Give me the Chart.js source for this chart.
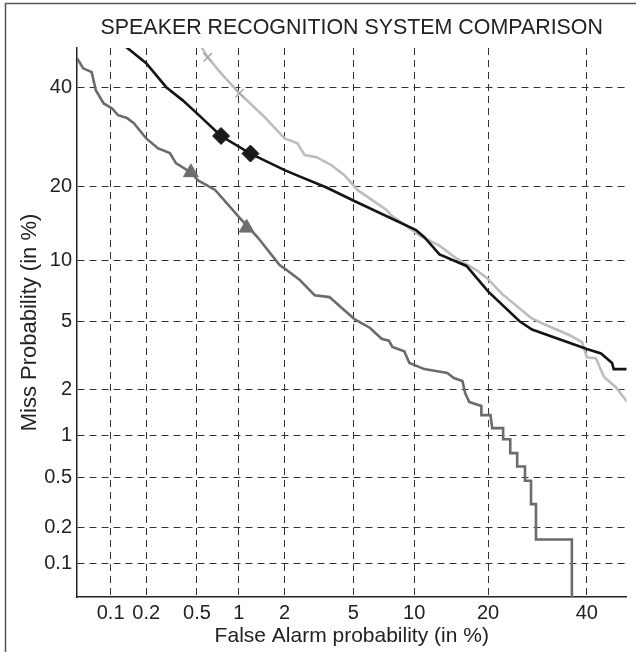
<!DOCTYPE html>
<html>
<head>
<meta charset="utf-8">
<script src="https://cdn.jsdelivr.net/npm/chart.js@4.4.1/dist/chart.umd.min.js"></script>
<style>
  html, body { margin: 0; padding: 0; background: #fff; }
  #wrap { width: 636px; height: 652px; }
</style>
</head>
<body>
<div id="wrap"><canvas id="detChart" width="636" height="652"></canvas></div>
<script>
// tick values (in %), same on both axes
var xTicks = [0.1, 0.2, 0.5, 1, 2, 5, 10, 20, 40];
var yTicks = [0.1, 0.2, 0.5, 1, 2, 5, 10, 20, 40];

// system A (black, diamonds)
var faA   = [0.13, 0.20, 0.29, 0.39, 0.50, 0.75, 1.2, 2.0, 2.47, 3.56, 5.1, 10.2, 11.1, 12.9, 16.6, 20.0, 25.6, 28.1, 40.0, 43.3, 45.9, 46.3, 49.5];
var missA = [50, 45.7, 40.1, 37.1, 34.2, 29.4, 25.9, 22.8, 21.7, 19.8, 17.6, 13.5, 12.6, 10.6, 9.4, 7.1, 5.0, 4.5, 3.5, 3.3, 2.9, 2.67, 2.67];

// system B (light grey, crosses)
var faB   = [0.53, 0.60, 0.75, 1.01, 1.49, 2.0, 2.40, 2.65, 3.12, 3.80, 4.48, 5.26, 7.4, 7.8, 10.9, 12.9, 15.1, 18.1, 19.9, 22.4, 27.9, 30.6, 36.0, 38.9, 40.0, 42.1, 44.0, 46.8, 49.5];
var missB = [50, 47.1, 43.3, 38.7, 33.4, 28.9, 27.9, 25.6, 25.2, 23.7, 21.9, 19.4, 16.3, 15.5, 12.6, 11.6, 10.2, 9.0, 8.2, 6.9, 5.2, 4.8, 4.2, 3.83, 3.14, 3.10, 2.39, 2.07, 1.67];

// system C (dark grey, triangles)
var faC   = [0.05, 0.057, 0.068, 0.074, 0.087, 0.103, 0.116, 0.138, 0.158, 0.20, 0.25, 0.31, 0.345, 0.45, 0.51, 0.68, 1.01, 1.34, 1.86, 2.06,
             2.47, 3.04, 3.70, 4.48, 5.1, 6.1, 7.0, 7.6, 7.9, 9.0, 9.5, 11.1, 13.9, 14.8, 16.0, 16.4, 17.0, 18.9, 18.9, 20.4,
             20.7, 22.6, 22.6, 23.9, 23.9, 25.2, 25.2, 26.7, 26.7, 27.9, 27.9, 28.9, 28.9, 36.6, 36.6];
var missC = [46.9, 44.5, 43.6, 39.4, 36.4, 35.3, 33.8, 33.2, 32.1, 28.9, 26.9, 26.0, 24.1, 22.4, 21.0, 19.4, 15.2, 12.6, 9.5, 9.0,
             8.1, 6.8, 6.65, 5.7, 5.1, 4.6, 4.0, 3.9, 3.6, 3.4, 2.9, 2.67, 2.53, 2.36, 2.26, 1.90, 1.67, 1.57, 1.37, 1.37,
             1.12, 1.12, 0.94, 0.94, 0.75, 0.75, 0.60, 0.60, 0.47, 0.47, 0.31, 0.31, 0.16, 0.16, 0.04];

// operating point markers
var markFaA = [0.75, 1.2],  markMissA = [29.4, 25.9];
var markFaB = [0.60, 1.01], markMissB = [47.1, 38.7];
var markFaC = [0.45, 1.13], markMissC = [22.4, 13.8];

// inverse normal cdf (Acklam) -> DET axes are normal deviate scaled
function probit(p) {
  var a = [-39.69683028665376, 220.9460984245205, -275.9285104469687, 138.3577518672690, -30.66479806614716, 2.506628277459239];
  var b = [-54.47609879822406, 161.5858368580409, -155.6989798598866, 66.80131188771972, -13.28068155288572];
  var c = [-0.007784894002430293, -0.3223964580411365, -2.400758277161838, -2.549732539343734, 4.374664141464968, 2.938163982698783];
  var d = [0.007784695709041462, 0.3224671290700398, 2.445134137142996, 3.754408661907416];
  var q, r;
  if (p < 0.02425) {
    q = Math.sqrt(-2 * Math.log(p));
    return (((((c[0]*q+c[1])*q+c[2])*q+c[3])*q+c[4])*q+c[5]) / ((((d[0]*q+d[1])*q+d[2])*q+d[3])*q+1);
  }
  if (p <= 1 - 0.02425) {
    q = p - 0.5; r = q * q;
    return (((((a[0]*r+a[1])*r+a[2])*r+a[3])*r+a[4])*r+a[5])*q / (((((b[0]*r+b[1])*r+b[2])*r+b[3])*r+b[4])*r+1);
  }
  q = Math.sqrt(-2 * Math.log(1 - p));
  return -(((((c[0]*q+c[1])*q+c[2])*q+c[3])*q+c[4])*q+c[5]) / ((((d[0]*q+d[1])*q+d[2])*q+d[3])*q+1);
}

function toPoints(fa, miss) {
  return fa.map(function (v, i) { return { x: probit(v / 100), y: probit(miss[i] / 100) }; });
}

var axMin = probit(0.0005);
var axMax = -0.017;

Chart.defaults.font.family = "'Liberation Sans', Arial, Helvetica, sans-serif";
Chart.defaults.color = '#222';

var framePlugin = {
  id: 'frame',
  afterDraw: function (chart) {
    var c = chart.ctx;
    c.save();
    c.strokeStyle = '#555';
    c.lineWidth = 1.5;
    c.beginPath();
    c.moveTo(5.5, 652);
    c.lineTo(5.5, 3.5);
    c.lineTo(636, 3.5);
    c.stroke();
    c.restore();
  }
};

var ctx = document.getElementById('detChart').getContext('2d');
var chart = new Chart(ctx, {
  type: 'scatter',
  data: {
    datasets: [
      { label: 'markA', data: toPoints(markFaA, markMissA), pointStyle: 'rectRot', pointRadius: 8.5,
        backgroundColor: '#1a1a1a', borderColor: '#1a1a1a', borderWidth: 1, showLine: false },
      { label: 'markC', data: toPoints(markFaC, markMissC), pointStyle: 'triangle', pointRadius: 8.5,
        backgroundColor: '#6e6e6e', borderColor: '#6e6e6e', borderWidth: 1, showLine: false },
      { label: 'markB', data: toPoints(markFaB, markMissB), pointStyle: 'crossRot', pointRadius: 6,
        borderColor: '#a8a8a8', borderWidth: 1.5, showLine: false },
      { label: 'A', data: toPoints(faA, missA), showLine: true, borderColor: '#141414', borderWidth: 2.6, pointRadius: 0 },
      { label: 'C', data: toPoints(faC, missC), showLine: true, borderColor: '#6b6b6b', borderWidth: 2.6, pointRadius: 0 },
      { label: 'B', data: toPoints(faB, missB), showLine: true, borderColor: '#bdbdbd', borderWidth: 2.6, pointRadius: 0 }
    ]
  },
  options: {
    responsive: false,
    animation: false,
    devicePixelRatio: 1,
    events: [],
    layout: { padding: { left: 0, right: 8, top: 0, bottom: 0 } },
    plugins: { legend: { display: false }, tooltip: { enabled: false }, title: { display: false } },
    scales: {
      x: {
        type: 'linear', position: 'bottom', min: axMin, max: axMax,
        afterBuildTicks: function (axis) { axis.ticks = xTicks.map(function (v) { return { value: probit(v / 100) }; }); },
        afterFit: function (axis) { axis.height = 55; },
        ticks: { autoSkip: false, maxRotation: 0, minRotation: 0, padding: 4, font: { size: 20 },
                 callback: function (value, index) { return String(xTicks[index]); } },
        grid: { color: '#333', lineWidth: 1, drawTicks: false },
        border: { color: '#222', width: 1.5, dash: [7, 5] },
        title: { display: true, text: 'False Alarm probability (in %)', font: { size: 21 }, padding: { top: 0, bottom: 3 } }
      },
      x2: {
        type: 'linear', position: 'top', min: axMin, max: axMax,
        afterFit: function (axis) { axis.height = 48; },
        ticks: { display: false },
        grid: { display: false },
        border: { display: false },
        title: { display: true, text: 'SPEAKER RECOGNITION SYSTEM COMPARISON', font: { size: 21.4 }, padding: { top: 15, bottom: 0 } }
      },
      y: {
        type: 'linear', position: 'left', min: axMin, max: axMax,
        afterBuildTicks: function (axis) { axis.ticks = yTicks.map(function (v) { return { value: probit(v / 100) }; }); },
        afterFit: function (axis) { axis.width = 77; },
        ticks: { autoSkip: false, padding: 5, font: { size: 20 },
                 callback: function (value, index) { return String(yTicks[index]); } },
        grid: { color: '#333', lineWidth: 1, drawTicks: false },
        border: { color: '#222', width: 1.5, dash: [7, 5] },
        title: { display: true, text: 'Miss Probability (in %)', font: { size: 22 }, padding: { top: 17, bottom: 0 } }
      }
    }
  },
  plugins: [framePlugin]
});
</script>
</body>
</html>
